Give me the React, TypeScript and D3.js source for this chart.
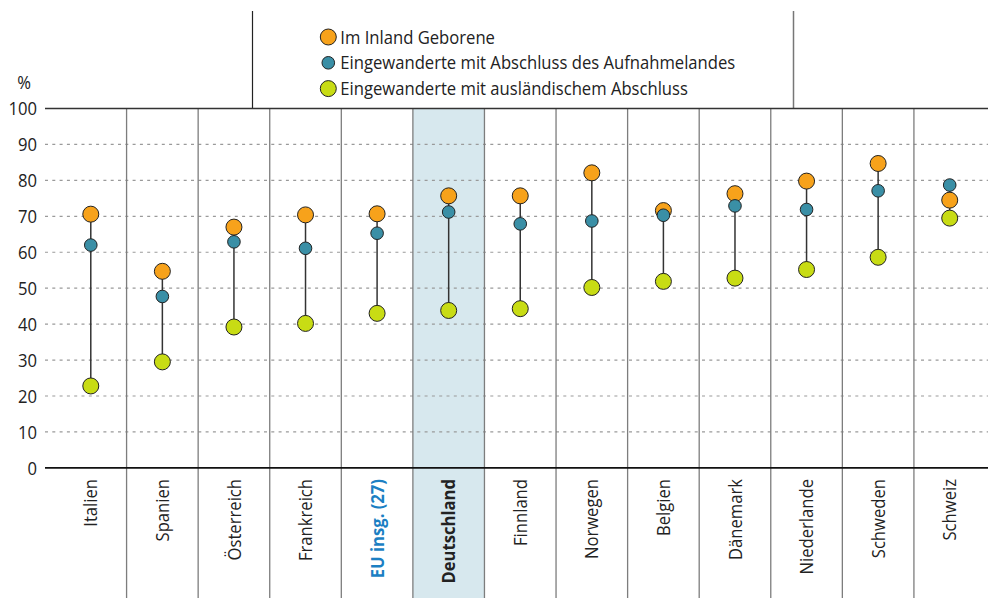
import * as d3 from "d3";

const countries = [
  "Italien",
  "Spanien",
  "Österreich",
  "Frankreich",
  "EU insg. (27)",
  "Deutschland",
  "Finnland",
  "Norwegen",
  "Belgien",
  "Dänemark",
  "Niederlande",
  "Schweden",
  "Schweiz",
];

// Im Inland Geborene
const nativeBorn = [70.6, 54.7, 67.0, 70.4, 70.7, 75.7, 75.7, 82.1, 71.6, 76.3, 79.8, 84.7, 74.5];
// Eingewanderte mit Abschluss des Aufnahmelandes
const hostDegree = [62.0, 47.7, 62.9, 61.1, 65.3, 71.2, 67.9, 68.7, 70.3, 72.9, 71.9, 77.1, 78.7];
// Eingewanderte mit ausländischem Abschluss
const foreignDegree = [22.8, 29.5, 39.2, 40.2, 43.0, 43.8, 44.3, 50.2, 51.9, 52.8, 55.2, 58.6, 69.5];

const yTicks = [0, 10, 20, 30, 40, 50, 60, 70, 80, 90, 100];

const legendItems = [
  { label: "Im Inland Geborene", color: "#f7a21b", r: 8 },
  { label: "Eingewanderte mit Abschluss des Aufnahmelandes", color: "#3a8fa6", r: 6.3 },
  { label: "Eingewanderte mit ausländischem Abschluss", color: "#c8dc14", r: 8 },
];

const W = 988;
const H = 598;
const FONT = "'Open Sans', 'Noto Sans', sans-serif";
const FS = 18.5;
// narrow the glyphs a little, the original uses a condensed face
const SQ = "scale(0.9,1)";

export default function App() {
  const x = d3.scaleBand().domain(countries).range([55, 985.5]);
  const y = d3.scaleLinear().domain([0, 100]).range([467.9, 108.5]);
  const left = 45;

  const rows = countries.map((c, i) => ({
    c,
    vals: [nativeBorn[i], hostDegree[i], foreignDegree[i]],
  }));

  return (
    <svg
      width={W}
      height={H}
      style={{ position: "absolute", left: 0, top: 0, fontFamily: FONT }}
    >
      <rect width={W} height={H} fill="#fff" />

      {/* highlighted column */}
      <rect
        x={x("Deutschland")}
        y={y(100)}
        width={x.bandwidth()}
        height={H - y(100)}
        fill="#d7e8ee"
      />

      {/* legend box lines */}
      <line x1={252.5} x2={252.5} y1={11} y2={y(100)} stroke="#222" strokeWidth={1.2} />
      <line x1={793.5} x2={793.5} y1={11} y2={y(100)} stroke="#777" strokeWidth={1.5} />

      {/* gridlines */}
      {yTicks
        .filter((t) => t > 0 && t < 100)
        .map((t) => (
          <line
            key={t}
            x1={left}
            x2={W}
            y1={y(t)}
            y2={y(t)}
            stroke="#9a9a9a"
            strokeWidth={1.2}
            strokeDasharray="3,4.3"
          />
        ))}

      {/* column dividers */}
      {countries.slice(0, -1).map((c) => {
        const xv = (x(c) ?? 0) + x.bandwidth();
        return (
          <line
            key={c}
            x1={xv}
            x2={xv}
            y1={y(100)}
            y2={H}
            stroke="#7d7d7d"
            strokeWidth={1.3}
          />
        );
      })}

      {/* axis lines */}
      <line x1={left} x2={W} y1={y(100)} y2={y(100)} stroke="#333" strokeWidth={1.6} />
      <line x1={left} x2={W} y1={y(0)} y2={y(0)} stroke="#111" strokeWidth={1.6} />

      {/* y tick labels */}
      {yTicks.map((t) => (
        <text
          key={t}
          transform={`translate(37,${y(t)}) ${SQ}`}
          dy="0.36em"
          textAnchor="end"
          fontSize={FS}
          fill="#222"
        >
          {t}
        </text>
      ))}
      <text
        transform={`translate(24,89) ${SQ}`}
        textAnchor="middle"
        fontSize={FS}
        fill="#222"
      >
        %
      </text>

      {/* dumbbells */}
      {rows.map(({ c, vals }) => {
        const cx = (x(c) ?? 0) + x.bandwidth() / 2;
        const lo = d3.min(vals) ?? 0;
        const hi = d3.max(vals) ?? 0;
        return (
          <g key={c}>
            <line x1={cx} x2={cx} y1={y(hi)} y2={y(lo)} stroke="#333" strokeWidth={1.5} />
            {vals.map((v, k) => (
              <circle
                key={k}
                cx={cx}
                cy={y(v)}
                r={legendItems[k].r}
                fill={legendItems[k].color}
                stroke="#222"
                strokeWidth={1}
              />
            ))}
          </g>
        );
      })}

      {/* category labels */}
      {countries.map((c) => {
        const cx = (x(c) ?? 0) + x.bandwidth() / 2;
        const isEU = c.startsWith("EU");
        const isDE = c === "Deutschland";
        return (
          <text
            key={c}
            transform={`translate(${cx},479) rotate(-90) ${SQ}`}
            textAnchor="end"
            dy="0.36em"
            fontSize={FS}
            fontWeight={isEU || isDE ? 700 : 400}
            fill={isEU ? "#1b7fc3" : "#222"}
          >
            {c}
          </text>
        );
      })}

      {/* legend */}
      {legendItems.map((it, i) => (
        <g key={it.label} transform={`translate(328.3,${37 + i * 25.8})`}>
          <circle r={it.r} fill={it.color} stroke="#222" strokeWidth={1} />
          <text
            transform={`translate(12,0) ${SQ}`}
            dy="0.36em"
            fontSize={FS}
            fill="#222"
          >
            {it.label}
          </text>
        </g>
      ))}
    </svg>
  );
}
